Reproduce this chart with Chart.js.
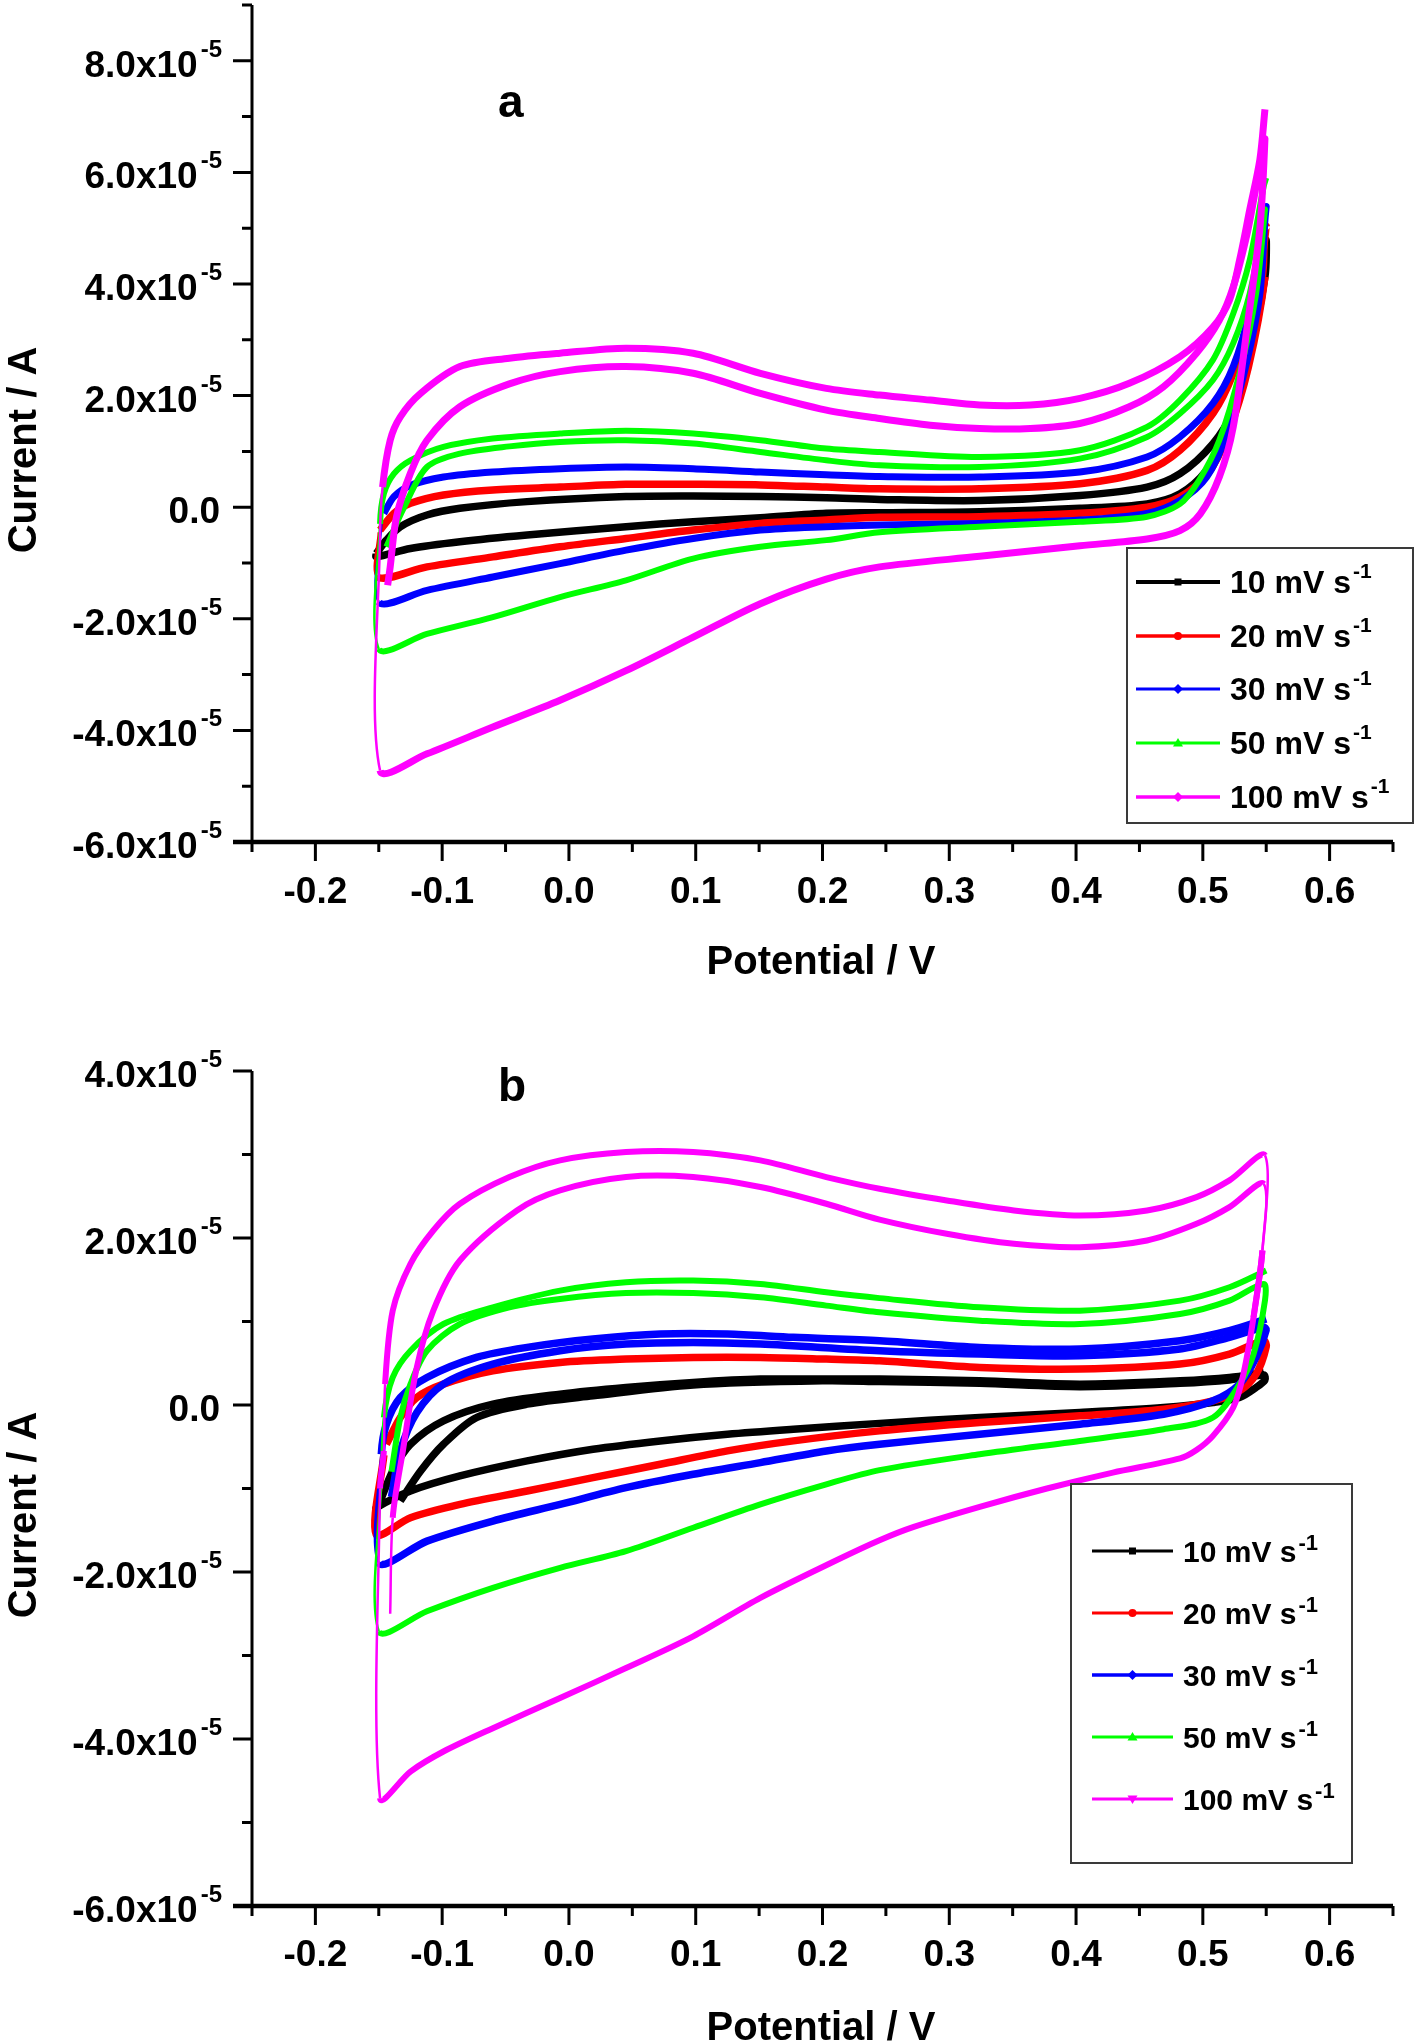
<!DOCTYPE html>
<html>
<head>
<meta charset="utf-8">
<script src="https://cdn.jsdelivr.net/npm/chart.js@4.4.1/dist/chart.umd.min.js"></script>
<style>
    body { margin: 0; background: #ffffff; }
    canvas { position: absolute; left: 0; }
</style>
</head>
<body>
<canvas id="chartA" width="1418" height="1010" style="top:0px"></canvas>
<canvas id="chartB" width="1418" height="1034" style="top:1010px"></canvas>
<script>
// current values are in units of 1e-5 A, potential in V
const rates = ["10", "20", "30", "50", "100"];
const colors = ["#000000", "#ff0000", "#0000ff", "#00ff00", "#ff00ff"];

const xMajor = [-0.2, -0.1, 0.0, 0.1, 0.2, 0.3, 0.4, 0.5, 0.6];
const xMinor = [-0.25, -0.15, -0.05, 0.05, 0.15, 0.25, 0.35, 0.45, 0.55, 0.65];
const yMajorA = [-6, -4, -2, 0, 2, 4, 6, 8];
const yMinorA = [-5, -3, -1, 1, 3, 5, 7, 9];
const yMajorB = [-6, -4, -2, 0, 2, 4];
const yMinorB = [-5, -3, -1, 1, 3];

// panel a
const a10x = [-0.152, -0.144, -0.133, -0.112, -0.086, -0.033, 0.045, 0.098, 0.151, 0.203, 0.245, 0.324, 0.403, 0.456, 0.482, 0.508, 0.524, 0.537, 0.548, 0.550,
    0.549, 0.535, 0.519, 0.503, 0.482, 0.456, 0.403, 0.324, 0.245, 0.203, 0.151, 0.098, 0.045, -0.033, -0.086, -0.125, -0.152, -0.152];
const a10y = [-0.83, -0.59, -0.35, -0.14, -0.02, 0.10, 0.19, 0.20, 0.19, 0.17, 0.14, 0.12, 0.21, 0.36, 0.60, 1.14, 1.74, 2.76, 4.13, 4.79,
    4.13, 2.52, 1.32, 0.66, 0.24, 0.06, -0.02, -0.08, -0.10, -0.11, -0.19, -0.26, -0.35, -0.50, -0.62, -0.74, -0.89, -0.83];

const a20x = [-0.149, -0.138, -0.125, -0.099, -0.060, -0.007, 0.045, 0.098, 0.151, 0.203, 0.245, 0.324, 0.403, 0.456, 0.482, 0.508, 0.524, 0.537, 0.548, 0.550,
    0.549, 0.536, 0.520, 0.504, 0.482, 0.456, 0.403, 0.324, 0.245, 0.203, 0.151, 0.098, 0.045, -0.007, -0.060, -0.112, -0.151, -0.150];
const a20y = [-0.41, -0.11, 0.07, 0.22, 0.31, 0.36, 0.41, 0.41, 0.40, 0.36, 0.33, 0.33, 0.42, 0.66, 1.02, 1.68, 2.40, 3.35, 4.67, 5.03,
    4.13, 2.52, 1.32, 0.60, 0.18, 0.00, -0.11, -0.17, -0.18, -0.23, -0.29, -0.41, -0.56, -0.71, -0.89, -1.07, -1.25, -0.45];

const a30x = [-0.146, -0.138, -0.125, -0.099, -0.060, -0.007, 0.045, 0.098, 0.151, 0.203, 0.245, 0.324, 0.403, 0.456, 0.482, 0.508, 0.524, 0.537, 0.548, 0.550,
    0.549, 0.545, 0.535, 0.519, 0.503, 0.482, 0.456, 0.403, 0.324, 0.245, 0.203, 0.151, 0.098, 0.045, -0.007, -0.060, -0.112, -0.150, -0.148];
const a30y = [-0.11, 0.19, 0.39, 0.54, 0.63, 0.69, 0.72, 0.69, 0.63, 0.58, 0.55, 0.54, 0.63, 0.90, 1.26, 1.86, 2.52, 3.53, 5.03, 5.39,
    5.15, 3.83, 2.64, 1.32, 0.54, 0.12, -0.11, -0.23, -0.29, -0.32, -0.35, -0.41, -0.56, -0.77, -1.01, -1.25, -1.49, -1.70, -0.30];

const a50x = [-0.144, -0.130, -0.112, -0.086, -0.047, -0.007, 0.045, 0.098, 0.151, 0.203, 0.245, 0.324, 0.403, 0.456, 0.482, 0.508, 0.524, 0.537, 0.548,
    0.549, 0.542, 0.529, 0.513, 0.497, 0.482, 0.456, 0.403, 0.324, 0.245, 0.203, 0.151, 0.098, 0.045, -0.007, -0.060, -0.112, -0.150,
    -0.149, -0.146, -0.138, -0.125, -0.099, -0.060, -0.007, 0.045, 0.098, 0.151, 0.203, 0.245, 0.324, 0.403, 0.456, 0.482, 0.508, 0.524, 0.537, 0.548, 0.550];
const a50y = [-0.71, 0.00, 0.72, 0.96, 1.09, 1.17, 1.20, 1.14, 0.99, 0.84, 0.75, 0.72, 0.87, 1.26, 1.68, 2.28, 2.94, 3.83, 5.15,
    5.33, 3.83, 2.40, 1.20, 0.48, 0.06, -0.17, -0.26, -0.35, -0.45, -0.59, -0.71, -0.92, -1.31, -1.61, -1.97, -2.27, -2.54,
    -0.30, 0.24, 0.60, 0.84, 1.08, 1.23, 1.32, 1.37, 1.32, 1.20, 1.05, 0.99, 0.90, 1.02, 1.44, 1.92, 2.64, 3.47, 4.43, 5.75, 5.90];

const a100x = [-0.143, -0.141, -0.136, -0.125, -0.112, -0.086, -0.047, -0.007, 0.045, 0.098, 0.151, 0.203, 0.245, 0.285, 0.324, 0.364, 0.403, 0.442, 0.469, 0.495, 0.513, 0.524, 0.535, 0.542, 0.548,
    0.549, 0.545, 0.535, 0.524, 0.513, 0.498, 0.482, 0.456, 0.403, 0.324, 0.245, 0.203, 0.151, 0.098, 0.045, -0.007, -0.060, -0.112, -0.149,
    -0.149, -0.147, -0.141, -0.133, -0.117, -0.086, -0.047, -0.007, 0.045, 0.098, 0.151, 0.203, 0.245, 0.285, 0.324, 0.364, 0.403, 0.442, 0.482, 0.508, 0.521, 0.529, 0.537, 0.545, 0.549];
const a100y = [-1.40, -1.07, -0.17, 0.61, 1.20, 1.80, 2.21, 2.43, 2.52, 2.40, 2.04, 1.74, 1.59, 1.47, 1.41, 1.41, 1.50, 1.80, 2.16, 2.76, 3.35, 3.95, 4.91, 5.75, 6.53,
    6.60, 5.00, 3.24, 1.44, 0.54, -0.12, -0.42, -0.57, -0.69, -0.88, -1.07, -1.29, -1.73, -2.33, -2.93, -3.46, -3.94, -4.42, -4.72,
    -0.50, 0.36, 1.20, 1.62, 2.04, 2.52, 2.67, 2.76, 2.85, 2.76, 2.40, 2.13, 2.01, 1.92, 1.83, 1.83, 1.95, 2.22, 2.70, 3.23, 3.71, 4.43, 5.33, 6.23, 7.13];

// panel b
const b10x = [-0.133, -0.117, -0.099, -0.073, -0.033, 0.019, 0.098, 0.203, 0.245, 0.324, 0.403, 0.482, 0.521, 0.548,
    0.549, 0.542, 0.529, 0.508, 0.469, 0.403, 0.324, 0.245, 0.177, 0.125, 0.072, 0.019, -0.033, -0.086, -0.125, -0.152,
    -0.152, -0.139, -0.125, -0.099, -0.060, -0.007, 0.045, 0.098, 0.151, 0.203, 0.245, 0.324, 0.403, 0.482, 0.521, 0.548];
const b10y = [-1.15, -0.79, -0.47, -0.15, 0.01, 0.11, 0.24, 0.29, 0.28, 0.26, 0.22, 0.26, 0.30, 0.36,
    0.30, 0.21, 0.09, 0.03, -0.03, -0.09, -0.15, -0.22, -0.29, -0.35, -0.43, -0.53, -0.67, -0.85, -1.03, -1.23,
    -1.27, -0.79, -0.47, -0.19, 0.01, 0.13, 0.21, 0.27, 0.31, 0.31, 0.31, 0.29, 0.25, 0.29, 0.33, 0.39];

const b20x = [-0.144, -0.133, -0.120, -0.099, -0.060, -0.007, 0.045, 0.098, 0.151, 0.203, 0.245, 0.324, 0.403, 0.482, 0.521, 0.548,
    0.550, 0.542, 0.529, 0.508, 0.469, 0.403, 0.324, 0.245, 0.177, 0.125, 0.072, 0.019, -0.033, -0.086, -0.125, -0.152, -0.146];
const b20y = [-0.47, -0.15, 0.09, 0.25, 0.41, 0.51, 0.55, 0.57, 0.57, 0.55, 0.53, 0.45, 0.43, 0.49, 0.61, 0.77,
    0.70, 0.37, 0.17, 0.05, -0.05, -0.13, -0.21, -0.31, -0.43, -0.55, -0.71, -0.87, -1.03, -1.19, -1.35, -1.55, -0.60];

const b30x = [-0.140, -0.133, -0.120, -0.099, -0.060, -0.007, 0.045, 0.098, 0.151, 0.245, 0.324, 0.403, 0.482, 0.521, 0.548,
    0.550, 0.542, 0.529, 0.508, 0.469, 0.403, 0.324, 0.245, 0.203, 0.151, 0.098, 0.045, -0.007, -0.060, -0.112, -0.150,
    -0.148, -0.144, -0.133, -0.112, -0.073, -0.033, 0.019, 0.072, 0.125, 0.177, 0.245, 0.324, 0.403, 0.482, 0.521, 0.550];
const b30y = [-1.10, -0.55, -0.09, 0.25, 0.49, 0.65, 0.73, 0.75, 0.73, 0.65, 0.61, 0.59, 0.67, 0.81, 0.93,
    0.90, 0.57, 0.25, 0.05, -0.11, -0.23, -0.35, -0.47, -0.55, -0.69, -0.83, -0.99, -1.19, -1.39, -1.63, -1.89,
    -0.59, -0.23, 0.09, 0.33, 0.57, 0.69, 0.79, 0.85, 0.85, 0.81, 0.77, 0.69, 0.67, 0.77, 0.89, 1.03];

const b50x = [-0.140, -0.133, -0.125, -0.112, -0.086, -0.047, -0.007, 0.045, 0.098, 0.151, 0.203, 0.245, 0.324, 0.403, 0.482, 0.521, 0.548,
    0.549, 0.540, 0.529, 0.508, 0.469, 0.403, 0.324, 0.245, 0.203, 0.151, 0.098, 0.045, -0.007, -0.060, -0.112, -0.150,
    -0.148, -0.146, -0.139, -0.125, -0.099, -0.060, -0.007, 0.045, 0.098, 0.151, 0.203, 0.245, 0.324, 0.403, 0.482, 0.521, 0.550];
const b50y = [-0.80, -0.15, 0.25, 0.65, 0.97, 1.17, 1.27, 1.34, 1.34, 1.29, 1.19, 1.11, 1.01, 0.97, 1.09, 1.25, 1.45,
    1.25, 0.61, 0.25, -0.15, -0.29, -0.43, -0.59, -0.78, -0.95, -1.19, -1.47, -1.75, -1.95, -2.19, -2.47, -2.71,
    -0.90, -0.15, 0.33, 0.65, 0.97, 1.17, 1.37, 1.47, 1.49, 1.45, 1.35, 1.28, 1.17, 1.13, 1.25, 1.41, 1.61];

const b100x = [-0.141, -0.139, -0.131, -0.120, -0.107, -0.086, -0.041, -0.007, 0.045, 0.098, 0.151, 0.203, 0.245, 0.298, 0.351, 0.403, 0.456, 0.495, 0.521, 0.548,
    0.547, 0.540, 0.532, 0.524, 0.508, 0.495, 0.482, 0.429, 0.377, 0.324, 0.272, 0.245, 0.211, 0.151, 0.098, 0.045, -0.007, -0.060, -0.099, -0.125, -0.149,
    -0.149, -0.146, -0.145, -0.139, -0.125, -0.107, -0.086, -0.047, -0.007, 0.045, 0.098, 0.151, 0.203, 0.245, 0.298, 0.351, 0.403, 0.456, 0.495, 0.521, 0.549,
    0.547, 0.540];
const b100y = [-2.50, -1.35, -0.55, 0.45, 1.13, 1.73, 2.33, 2.57, 2.73, 2.73, 2.61, 2.41, 2.22, 2.05, 1.93, 1.89, 1.97, 2.17, 2.37, 2.65,
    1.85, 1.05, 0.37, -0.03, -0.37, -0.54, -0.64, -0.81, -1.00, -1.22, -1.46, -1.62, -1.86, -2.31, -2.77, -3.15, -3.51, -3.87, -4.15, -4.39, -4.71,
    -1.00, -0.55, 0.25, 1.13, 1.69, 2.09, 2.41, 2.73, 2.93, 3.03, 3.03, 2.93, 2.73, 2.59, 2.45, 2.33, 2.27, 2.33, 2.49, 2.69, 2.99,
    1.85, 1.05];

const FONT = "'Liberation Sans', Arial, sans-serif";

function toPoints(xs, ys) {
    return xs.map((x, i) => ({ x, y: ys[i] }));
}

// the quick potential jumps are drawn thin, like the sparse points in the original
function jumpWidth(ctx) {
    const dx = Math.abs(ctx.p1.x - ctx.p0.x);
    const dy = Math.abs(ctx.p1.y - ctx.p0.y);
    if (dx < 3 && dy > 40) return 2.5;
    return undefined;
}

function makeDatasets(series, widths) {
    return series.map((s, i) => ({
        label: rates[i] + " mV s-1",
        data: toPoints(s[0], s[1]),
        showLine: true,
        borderColor: colors[i],
        backgroundColor: colors[i],
        borderWidth: widths[i],
        pointRadius: 0,
        tension: 0.3,
        order: 5 - i,
        segment: { borderWidth: jumpWidth },
    }));
}

function drawMarker(ctx, style, x, y, color) {
    ctx.fillStyle = color;
    ctx.beginPath();
    if (style == "rect") {
        ctx.rect(x - 3.5, y - 3.5, 7, 7);
    } else if (style == "circle") {
        ctx.arc(x, y, 4, 0, Math.PI * 2);
    } else if (style == "diamond") {
        ctx.moveTo(x, y - 5); ctx.lineTo(x + 5, y); ctx.lineTo(x, y + 5); ctx.lineTo(x - 5, y);
    } else if (style == "triangle") {
        ctx.moveTo(x, y - 5); ctx.lineTo(x + 5, y + 3.5); ctx.lineTo(x - 5, y + 3.5);
    } else if (style == "down") {
        ctx.moveTo(x, y + 5); ctx.lineTo(x + 5, y - 3.5); ctx.lineTo(x - 5, y - 3.5);
    }
    ctx.closePath();
    ctx.fill();
}

function decorPlugin(cfg) {
    return {
        id: "decor" + cfg.letter,
        afterDraw(chart) {
            const ctx = chart.ctx;
            const xs = chart.scales.x;
            const ys = chart.scales.y;
            const area = chart.chartArea;
            ctx.save();
            ctx.strokeStyle = "#000";
            ctx.fillStyle = "#000";

            // axis lines
            ctx.lineWidth = 3;
            ctx.beginPath();
            ctx.moveTo(area.left, ys.getPixelForValue(cfg.ymax));
            ctx.lineTo(area.left, area.bottom);
            ctx.stroke();
            ctx.lineWidth = 4.5;
            ctx.beginPath();
            ctx.moveTo(area.left - 19, area.bottom);
            ctx.lineTo(area.right, area.bottom);
            ctx.stroke();

            // ticks
            ctx.lineWidth = 3;
            ctx.beginPath();
            cfg.yMajor.forEach((v) => {
                const py = ys.getPixelForValue(v);
                ctx.moveTo(area.left - 19, py); ctx.lineTo(area.left, py);
            });
            cfg.yMinor.forEach((v) => {
                const py = ys.getPixelForValue(v);
                ctx.moveTo(area.left - 10, py); ctx.lineTo(area.left, py);
            });
            xMajor.forEach((v) => {
                const px = xs.getPixelForValue(v);
                ctx.moveTo(px, area.bottom); ctx.lineTo(px, area.bottom + 19);
            });
            xMinor.forEach((v) => {
                const px = xs.getPixelForValue(v);
                ctx.moveTo(px, area.bottom); ctx.lineTo(px, area.bottom + 10);
            });
            ctx.stroke();

            // y tick labels with x10^-5
            ctx.textBaseline = "alphabetic";
            cfg.yMajor.forEach((v) => {
                const py = ys.getPixelForValue(v);
                if (v == 0) {
                    ctx.font = "bold 37px " + FONT;
                    ctx.textAlign = "right";
                    ctx.fillText("0.0", 220, py + 16);
                    return;
                }
                ctx.font = "bold 24px " + FONT;
                const supW = ctx.measureText("-5").width;
                ctx.textAlign = "left";
                ctx.fillText("-5", 222 - supW, py - 4);
                ctx.font = "bold 37px " + FONT;
                ctx.textAlign = "right";
                ctx.fillText(v.toFixed(1) + "x10", 222 - supW - 3, py + 16);
            });

            // x tick labels
            ctx.font = "bold 37px " + FONT;
            ctx.textAlign = "center";
            xMajor.forEach((v) => {
                ctx.fillText(v.toFixed(1), xs.getPixelForValue(v), area.bottom + cfg.xLabelOffset);
            });

            // axis titles
            ctx.font = "bold 40px " + FONT;
            ctx.fillText("Potential / V", 821, area.bottom + cfg.xTitleOffset);
            ctx.save();
            ctx.translate(36, cfg.yTitleY);
            ctx.rotate(-Math.PI / 2);
            ctx.fillText("Current / A", 0, 0);
            ctx.restore();

            // panel letter
            ctx.font = "bold 46px " + FONT;
            ctx.textAlign = "left";
            ctx.fillText(cfg.letter, 498, cfg.letterY);

            // legend
            const lg = cfg.legend;
            ctx.fillStyle = "#ffffff";
            ctx.fillRect(lg.box[0], lg.box[1], lg.box[2] - lg.box[0], lg.box[3] - lg.box[1]);
            ctx.strokeStyle = "#3a3a3a";
            ctx.lineWidth = 2;
            ctx.strokeRect(lg.box[0], lg.box[1], lg.box[2] - lg.box[0], lg.box[3] - lg.box[1]);
            rates.forEach((r, i) => {
                const ry = lg.rows[i];
                ctx.strokeStyle = colors[i];
                ctx.lineWidth = lg.lineWidths[i];
                ctx.beginPath();
                ctx.moveTo(lg.line[0], ry);
                ctx.lineTo(lg.line[1], ry);
                ctx.stroke();
                drawMarker(ctx, lg.markers[i], (lg.line[0] + lg.line[1]) / 2, ry, colors[i]);
                ctx.fillStyle = "#000";
                ctx.textAlign = "left";
                ctx.font = "bold " + lg.font + "px " + FONT;
                const label = r + " mV s";
                ctx.fillText(label, lg.textX, ry + lg.font * 0.358);
                const w = ctx.measureText(label).width;
                ctx.font = "bold " + lg.sup + "px " + FONT;
                ctx.fillText("-1", lg.textX + w + 2, ry + lg.supDy);
            });
            ctx.restore();
        },
    };
}

function makeChart(id, datasets, cfg) {
    return new Chart(document.getElementById(id), {
        type: "scatter",
        data: { datasets },
        options: {
            responsive: false,
            animation: false,
            events: [],
            layout: { padding: { top: cfg.padTop, right: 25, left: 0, bottom: 0 } },
            plugins: {
                legend: { display: false },
                tooltip: { enabled: false },
            },
            scales: {
                x: {
                    type: "linear",
                    min: -0.25,
                    max: 0.65,
                    ticks: { display: false },
                    grid: { display: false },
                    border: { display: false },
                    afterFit: (s) => { s.height = cfg.xAxisH; },
                },
                y: {
                    type: "linear",
                    min: cfg.ymin,
                    max: cfg.ymax,
                    ticks: { display: false },
                    grid: { display: false },
                    border: { display: false },
                    afterFit: (s) => { s.width = 252; },
                },
            },
        },
        plugins: [decorPlugin(cfg)],
    });
}

makeChart("chartA",
    makeDatasets([[a10x, a10y], [a20x, a20y], [a30x, a30y], [a50x, a50y], [a100x, a100y]], [7.5, 7.5, 7, 6, 7]),
    {
        letter: "a", letterY: 117, padTop: 5, xAxisH: 168, ymin: -6, ymax: 9,
        yMajor: yMajorA, yMinor: yMinorA,
        xLabelOffset: 61, xTitleOffset: 132, yTitleY: 450,
        legend: {
            box: [1127, 548, 1413, 823],
            rows: [582, 636, 689, 743, 797],
            line: [1136, 1220],
            lineWidths: [4, 3.5, 3, 3, 3.5],
            markers: ["rect", "circle", "diamond", "triangle", "diamond"],
            textX: 1230, font: 32, sup: 21, supDy: -4,
        },
    });

makeChart("chartB",
    makeDatasets([[b10x, b10y], [b20x, b20y], [b30x, b30y], [b50x, b50y], [b100x, b100y]], [7.5, 7.5, 7.5, 6, 6]),
    {
        letter: "b", letterY: 91, padTop: 61, xAxisH: 138, ymin: -6, ymax: 4,
        yMajor: yMajorB, yMinor: yMinorB,
        xLabelOffset: 60, xTitleOffset: 134, yTitleY: 505,
        legend: {
            box: [1071, 474, 1352, 853],
            rows: [541, 603, 665, 727, 789],
            line: [1092, 1173],
            lineWidths: [3, 3, 3.5, 3, 3],
            markers: ["rect", "circle", "diamond", "triangle", "down"],
            textX: 1183, font: 30, sup: 22, supDy: -1,
        },
    });
</script>
</body>
</html>
